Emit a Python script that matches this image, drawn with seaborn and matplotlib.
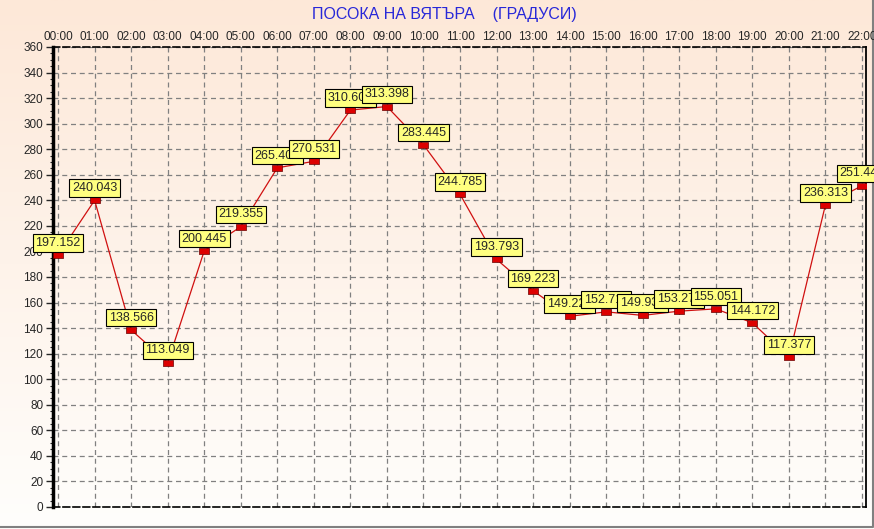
import matplotlib
matplotlib.use("Agg")
import matplotlib.pyplot as plt
import numpy as np
import pandas as pd
import seaborn as sns

# Data
hours = ["00:00", "01:00", "02:00", "03:00", "04:00", "05:00", "06:00", "07:00",
         "08:00", "09:00", "10:00", "11:00", "12:00", "13:00", "14:00", "15:00",
         "16:00", "17:00", "18:00", "19:00", "20:00", "21:00", "22:00"]
direction = [197.152, 240.043, 138.566, 113.049, 200.445, 219.355, 265.403, 270.531,
             310.604, 313.398, 283.445, 244.785, 193.793, 169.223, 149.221, 152.713,
             149.934, 153.275, 155.051, 144.172, 117.377, 236.313, 251.441]
y_ticks = list(range(0, 361, 20))

df = pd.DataFrame({"pos": range(len(hours)), "deg": direction})

sns.set_style("white")
plt.rcParams["font.family"] = ["Liberation Sans", "DejaVu Sans"]

fig = plt.figure(figsize=(8.74, 5.29), dpi=100)

# peach -> white background gradient over the whole figure
bg = fig.add_axes([0, 0, 1, 1], zorder=-10)
grad = np.linspace(0, 1, 256).reshape(-1, 1)
top_c = np.array([253, 232, 216]) / 255
bot_c = np.array([255, 254, 252]) / 255
img = top_c[None, None, :] * (1 - grad[:, :, None]) + bot_c[None, None, :] * grad[:, :, None]
bg.imshow(img, aspect="auto", extent=[0, 1, 0, 1])
bg.set_axis_off()
# grey frame at right / bottom edge
bg.plot([0, 0.9985, 0.9985], [0.003, 0.003, 1], color="#808080", lw=1.5,
        transform=bg.transAxes, clip_on=False)

ax = fig.add_axes([0.0606, 0.0416, 0.9302, 0.8696])
ax.set_facecolor("none")

# small flat red rectangles as point markers
rect = [(-1, -0.65), (1, -0.65), (1, 0.65), (-1, 0.65), (-1, -0.65)]
sns.lineplot(data=df, x="pos", y="deg", ax=ax, color="#d01010", lw=0.9,
             marker=rect, markersize=7, markerfacecolor="#dd0000",
             markeredgecolor="#6a0000", markeredgewidth=0.5, zorder=3)

for i, v in enumerate(direction):
    ax.annotate(f"{v:.3f}", (i, v), xytext=(0, 4.5), textcoords="offset points",
                ha="center", va="bottom", fontsize=9, zorder=5 + i,
                bbox=dict(boxstyle="square,pad=0.22", fc="#ffff80", ec="black", lw=0.8),
                annotation_clip=False)

ax.set_xlim(-0.14, 22.11)
ax.set_ylim(0, 360)
ax.set_xticks(range(len(hours)))
ax.set_xticklabels(hours)
ax.xaxis.tick_top()
ax.tick_params(axis="x", length=0, pad=3, labelsize=8.5)
ax.set_yticks(y_ticks)
ax.set_yticks(range(0, 361, 5), minor=True)
ax.tick_params(axis="y", which="major", length=5, width=1, pad=2, labelsize=8.5, left=True)
ax.tick_params(axis="y", which="minor", length=2, width=0.8, left=True)
ax.set_xlabel("")
ax.set_ylabel("")
ax.grid(True, color="#808080", ls=(0, (4, 3)), lw=0.9)

ax.spines["left"].set_linewidth(2.5)
ax.spines["right"].set_linewidth(1.3)
for s in ["top", "bottom"]:
    ax.spines[s].set_linestyle((0, (4, 2)))
    ax.spines[s].set_linewidth(1.2)
for s in ax.spines.values():
    s.set_color("black")

fig.text(0.509, 0.972, "ПОСОКА НА ВЯТЪРА    (ГРАДУСИ)", ha="center", va="center",
         fontsize=11.5, color="#2828d8")

fig.savefig("out.png", dpi=100)
